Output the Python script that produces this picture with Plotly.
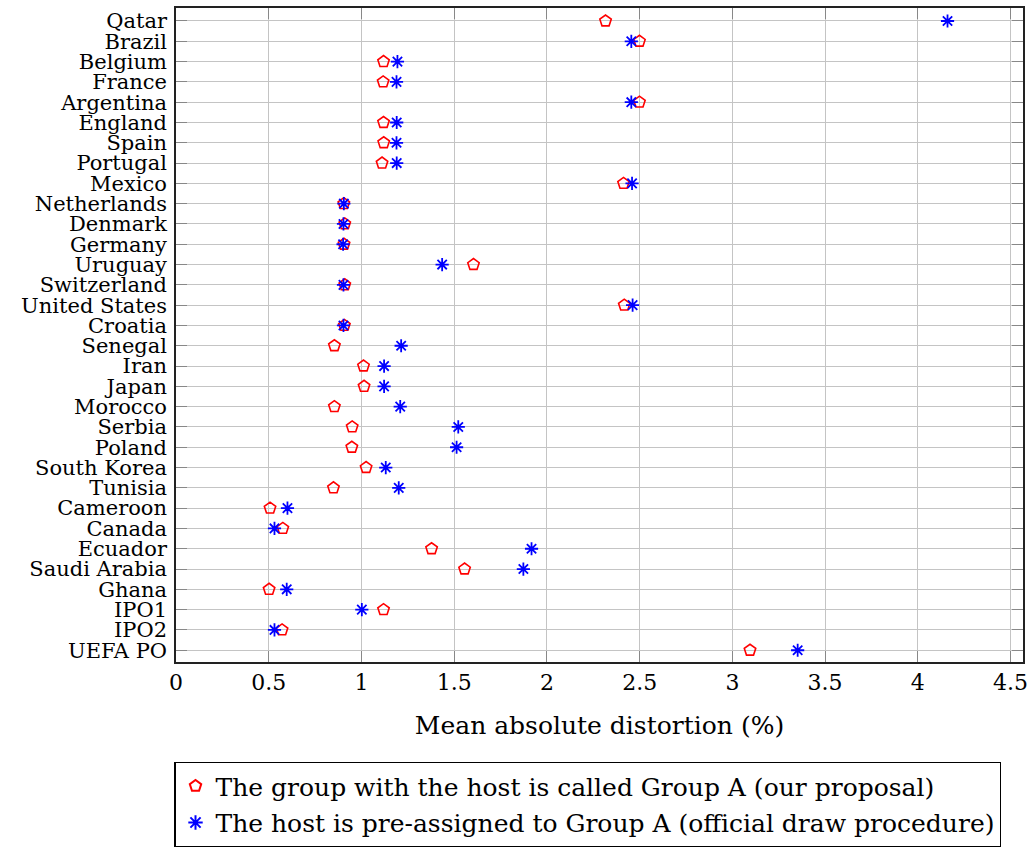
import plotly.graph_objects as go

countries = ["Qatar", "Brazil", "Belgium", "France", "Argentina", "England", "Spain",
             "Portugal", "Mexico", "Netherlands", "Denmark", "Germany", "Uruguay",
             "Switzerland", "United States", "Croatia", "Senegal", "Iran", "Japan",
             "Morocco", "Serbia", "Poland", "South Korea", "Tunisia", "Cameroon",
             "Canada", "Ecuador", "Saudi Arabia", "Ghana", "IPO1", "IPO2", "UEFA PO"]

proposal = [2.316, 2.499, 1.119, 1.117, 2.499, 1.119, 1.120, 1.111, 2.413, 0.905,
            0.910, 0.906, 1.604, 0.910, 2.417, 0.908, 0.854, 1.011, 1.014, 0.854,
            0.950, 0.948, 1.025, 0.849, 0.507, 0.576, 1.378, 1.556, 0.502, 1.119,
            0.572, 3.095]

official = [4.160, 2.455, 1.194, 1.189, 2.455, 1.190, 1.189, 1.190, 2.459, 0.905,
            0.903, 0.901, 1.435, 0.903, 2.462, 0.903, 1.214, 1.122, 1.122, 1.209,
            1.522, 1.513, 1.131, 1.201, 0.601, 0.531, 1.917, 1.873, 0.597, 1.002,
            0.531, 3.352]

x_ticks = [0, 0.5, 1, 1.5, 2, 2.5, 3, 3.5, 4, 4.5]
x_tick_labels = ["0", "0.5", "1", "1.5", "2", "2.5", "3", "3.5", "4", "4.5"]

names = ["The group with the host is called Group A (our proposal)",
         "The host is pre-assigned to Group A (official draw procedure)"]

FONT = "'DejaVu Serif', serif"

fig = go.Figure()
fig.add_trace(go.Scatter(
    x=proposal, y=countries, mode="markers", name=names[0], legendgroup="a",
    marker=dict(symbol="pentagon-open", size=12, color="red",
                line=dict(color="red", width=1.6)),
))
fig.add_trace(go.Scatter(
    x=official, y=countries, mode="markers", name=names[1], legendgroup="b",
    marker=dict(symbol="asterisk-open", size=11, color="blue",
                line=dict(color="blue", width=1.8)),
))

fig.update_layout(
    width=1033, height=849,
    margin=dict(l=176, r=10, t=8, b=187, autoexpand=False),
    paper_bgcolor="white", plot_bgcolor="white",
    font=dict(family=FONT, size=22, color="black"),
    showlegend=True,
    legend=dict(
        x=-0.002, y=-0.153, xanchor="left", yanchor="top",
        bordercolor="black", borderwidth=1.2, bgcolor="white",
        font=dict(family=FONT, size=25, color="black"),
        itemsizing="constant", traceorder="grouped", tracegroupgap=1, itemwidth=30,
    ),
)

fig.update_xaxes(
    range=[0, 4.567], tickvals=x_ticks, ticktext=x_tick_labels,
    showgrid=True, gridcolor="#c4c4c4", gridwidth=1,
    zeroline=False, showline=True, linecolor="#222222", linewidth=1.6,
    mirror="ticks", ticks="inside", ticklen=11, tickcolor="#888888", tickwidth=1,
    tickfont=dict(family=FONT, size=22), automargin=False,
    title=dict(text="Mean absolute distortion (%)", font=dict(family=FONT, size=25), standoff=22),
)
fig.update_yaxes(
    type="category", categoryorder="array", categoryarray=countries,
    tickmode="array", tickvals=countries, ticktext=countries,
    range=[31.58, -0.64], automargin=False,
    showgrid=True, gridcolor="#c4c4c4", gridwidth=1,
    zeroline=False, showline=True, linecolor="#222222", linewidth=1.6,
    mirror="ticks", ticks="inside", ticklen=11, tickcolor="#888888", tickwidth=1,
    tickfont=dict(family=FONT, size=21),
    ticklabelstandoff=3,
)

fig.write_html("out.html")
